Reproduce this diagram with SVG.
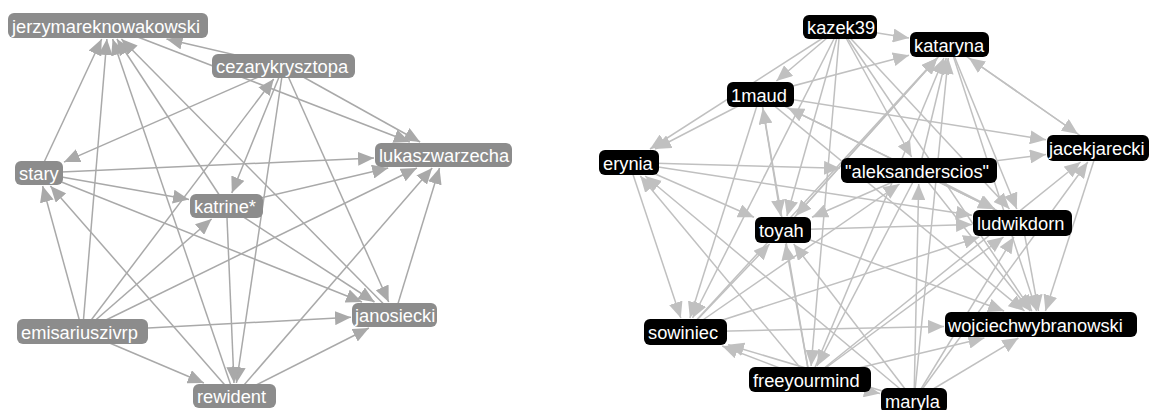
<svg xmlns="http://www.w3.org/2000/svg" width="1150" height="410" viewBox="0 0 1150 410">
<defs>
<marker id="aL" markerUnits="userSpaceOnUse" markerWidth="16" markerHeight="14" refX="16" refY="7" orient="auto"><path d="M0,0 L16,7 L0,14 z" fill="#a9a9a9"/></marker>
<marker id="aR" markerUnits="userSpaceOnUse" markerWidth="16" markerHeight="14" refX="16" refY="7" orient="auto"><path d="M0,0 L16,7 L0,14 z" fill="#c0c0c0"/></marker>
</defs>
<style>
.el line{stroke:#a9a9a9;stroke-width:1.5;marker-end:url(#aL);fill:none}
.er line{stroke:#c0c0c0;stroke-width:1.5;marker-end:url(#aR);fill:none}
.nl rect{fill:#8c8c8c}
.nr rect{fill:#000}
text{font-family:"Liberation Sans",Arial,sans-serif;font-size:18.3px;fill:#fff}
</style>
<rect width="1150" height="410" fill="#fff"/>
<g id="edges-left" class="el">
<line x1="283.5" y1="66" x2="166.5" y2="39"/>
<line x1="108" y1="25.5" x2="409.8" y2="142"/>
<line x1="39" y1="173" x2="101.7" y2="39"/>
<line x1="82.5" y1="331.5" x2="106.9" y2="39"/>
<line x1="234.5" y1="396" x2="112.6" y2="39"/>
<line x1="226.5" y1="206" x2="116.9" y2="39"/>
<line x1="394.5" y1="315" x2="121.4" y2="39"/>
<line x1="283.5" y1="66" x2="64" y2="162.1"/>
<line x1="82.5" y1="331.5" x2="273.7" y2="79"/>
<line x1="283.5" y1="66" x2="231.8" y2="193"/>
<line x1="283.5" y1="66" x2="236.4" y2="383"/>
<line x1="283.5" y1="66" x2="420.1" y2="142"/>
<line x1="283.5" y1="66" x2="388.7" y2="302"/>
<line x1="39" y1="173" x2="374" y2="158.1"/>
<line x1="39" y1="173" x2="189" y2="199.4"/>
<line x1="39" y1="173" x2="362" y2="302"/>
<line x1="82.5" y1="331.5" x2="42.6" y2="186"/>
<line x1="234.5" y1="396" x2="50.4" y2="186"/>
<line x1="82.5" y1="331.5" x2="211.6" y2="219"/>
<line x1="226.5" y1="206" x2="388.2" y2="168"/>
<line x1="226.5" y1="206" x2="234" y2="383"/>
<line x1="226.5" y1="206" x2="374.5" y2="302"/>
<line x1="82.5" y1="331.5" x2="416.9" y2="168"/>
<line x1="234.5" y1="396" x2="432.2" y2="168"/>
<line x1="394.5" y1="315" x2="439.5" y2="168"/>
<line x1="82.5" y1="331.5" x2="351" y2="317.3"/>
<line x1="82.5" y1="331.5" x2="203.9" y2="383"/>
<line x1="234.5" y1="396" x2="368.9" y2="328"/>
</g>
<g id="edges-right" class="er">
<line x1="840" y1="27" x2="909" y2="38"/>
<line x1="840" y1="27" x2="776.4" y2="81"/>
<line x1="840" y1="27" x2="650" y2="149"/>
<line x1="840" y1="27" x2="911.6" y2="157"/>
<line x1="840" y1="27" x2="786.9" y2="216"/>
<line x1="840" y1="27" x2="1009.5" y2="209"/>
<line x1="840" y1="27" x2="1031.9" y2="311"/>
<line x1="840" y1="27" x2="692.6" y2="318"/>
<line x1="840" y1="27" x2="811.1" y2="366"/>
<line x1="760.5" y1="94.5" x2="655.1" y2="149"/>
<line x1="760.5" y1="94.5" x2="909" y2="55.2"/>
<line x1="760.5" y1="94.5" x2="1046" y2="139.8"/>
<line x1="760.5" y1="94.5" x2="780.7" y2="216"/>
<line x1="760.5" y1="94.5" x2="689.9" y2="318"/>
<line x1="760.5" y1="94.5" x2="994" y2="209"/>
<line x1="760.5" y1="94.5" x2="1024.5" y2="311"/>
<line x1="810" y1="379.5" x2="762.8" y2="108"/>
<line x1="1022.5" y1="223" x2="788" y2="108"/>
<line x1="629" y1="162.5" x2="840" y2="168.3"/>
<line x1="629" y1="162.5" x2="754" y2="217.3"/>
<line x1="629" y1="162.5" x2="972" y2="215.2"/>
<line x1="629" y1="162.5" x2="680.8" y2="318"/>
<line x1="810" y1="379.5" x2="640.3" y2="176"/>
<line x1="914" y1="400.5" x2="645.2" y2="176"/>
<line x1="783" y1="230" x2="937.4" y2="58"/>
<line x1="783" y1="230" x2="972" y2="224.5"/>
<line x1="783" y1="230" x2="1004.1" y2="311"/>
<line x1="919" y1="170.5" x2="812" y2="217.3"/>
<line x1="685.5" y1="332" x2="769.6" y2="244"/>
<line x1="810" y1="379.5" x2="785.5" y2="244"/>
<line x1="914" y1="400.5" x2="793.7" y2="244"/>
<line x1="949.5" y1="44.5" x2="795.6" y2="216"/>
<line x1="919" y1="170.5" x2="946.2" y2="58"/>
<line x1="919" y1="170.5" x2="817" y2="366"/>
<line x1="919" y1="170.5" x2="994.9" y2="209"/>
<line x1="919" y1="170.5" x2="1030.3" y2="311"/>
<line x1="919" y1="170.5" x2="1046" y2="154.5"/>
<line x1="685.5" y1="332" x2="899.5" y2="184"/>
<line x1="914" y1="400.5" x2="918.7" y2="184"/>
<line x1="685.5" y1="332" x2="937.1" y2="58"/>
<line x1="685.5" y1="332" x2="979.3" y2="237"/>
<line x1="685.5" y1="332" x2="944" y2="326.5"/>
<line x1="810" y1="379.5" x2="722.2" y2="346"/>
<line x1="914" y1="400.5" x2="728" y2="344.7"/>
<line x1="810" y1="379.5" x2="943.9" y2="58"/>
<line x1="810" y1="379.5" x2="1003.5" y2="237"/>
<line x1="810" y1="379.5" x2="984.4" y2="338"/>
<line x1="810" y1="379.5" x2="880" y2="393.6"/>
<line x1="810" y1="379.5" x2="1080.6" y2="162"/>
<line x1="914" y1="400.5" x2="948.2" y2="58"/>
<line x1="914" y1="400.5" x2="1013.9" y2="237"/>
<line x1="914" y1="400.5" x2="1018.4" y2="338"/>
<line x1="914" y1="400.5" x2="1087.8" y2="162"/>
<line x1="1022.5" y1="223" x2="1038.5" y2="311"/>
<line x1="1098" y1="148" x2="968.9" y2="58"/>
<line x1="1098" y1="148" x2="1045.4" y2="311"/>
<line x1="949.5" y1="44.5" x2="1077.9" y2="134"/>
<line x1="949.5" y1="44.5" x2="1016.8" y2="209"/>
<line x1="949.5" y1="44.5" x2="1036.6" y2="311"/>
</g>
<g id="n-jerzymareknowakowski" class="nl"><rect x="8" y="13" width="200" height="25" rx="6"/><text x="12" y="32.5">jerzymareknowakowski</text></g>
<g id="n-cezarykrysztopa" class="nl"><rect x="212" y="54" width="143" height="24" rx="6"/><text x="216" y="73">cezarykrysztopa</text></g>
<g id="n-stary" class="nl"><rect x="15" y="161" width="48" height="24" rx="6"/><text x="19" y="180">stary</text></g>
<g id="n-katrine" class="nl"><rect x="190" y="194" width="73" height="24" rx="6"/><text x="194" y="213">katrine*</text></g>
<g id="n-lukaszwarzecha" class="nl"><rect x="375" y="143" width="137" height="24" rx="6"/><text x="379" y="162">lukaszwarzecha</text></g>
<g id="n-emisariuszivrp" class="nl"><rect x="17" y="319" width="131" height="25" rx="6"/><text x="21" y="338.5">emisariuszivrp</text></g>
<g id="n-janosiecki" class="nl"><rect x="352" y="303" width="85" height="24" rx="6"/><text x="355" y="322">janosiecki</text></g>
<g id="n-rewident" class="nl"><rect x="193" y="384" width="83" height="24" rx="6"/><text x="197" y="403">rewident</text></g>
<g id="n-kazek39" class="nr"><rect x="803" y="15" width="74" height="24" rx="6"/><text x="807" y="34">kazek39</text></g>
<g id="n-kataryna" class="nr"><rect x="910" y="32" width="79" height="25" rx="6"/><text x="914" y="51.5">kataryna</text></g>
<g id="n-1maud" class="nr"><rect x="727" y="82" width="67" height="25" rx="6"/><text x="731" y="101.5">1maud</text></g>
<g id="n-jacekjarecki" class="nr"><rect x="1047" y="135" width="102" height="26" rx="6"/><text x="1049" y="155">jacekjarecki</text></g>
<g id="n-erynia" class="nr"><rect x="599" y="150" width="60" height="25" rx="6"/><text x="603" y="169.5">erynia</text></g>
<g id="n-aleksanderscios" class="nr"><rect x="841" y="158" width="156" height="25" rx="6"/><text x="845" y="177.5">"aleksanderscios"</text></g>
<g id="n-toyah" class="nr"><rect x="755" y="217" width="56" height="26" rx="6"/><text x="759" y="237">toyah</text></g>
<g id="n-ludwikdorn" class="nr"><rect x="973" y="210" width="99" height="26" rx="6"/><text x="977" y="230">ludwikdorn</text></g>
<g id="n-sowiniec" class="nr"><rect x="644" y="319" width="83" height="26" rx="6"/><text x="648" y="339">sowiniec</text></g>
<g id="n-wojciechwybranowski" class="nr"><rect x="945" y="312" width="192" height="25" rx="6"/><text x="948" y="331.5">wojciechwybranowski</text></g>
<g id="n-freeyourmind" class="nr"><rect x="749" y="367" width="122" height="25" rx="6"/><text x="753" y="386.5">freeyourmind</text></g>
<g id="n-maryla" class="nr"><rect x="881" y="388" width="66" height="25" rx="6"/><text x="885" y="407.5">maryla</text></g>
</svg>
